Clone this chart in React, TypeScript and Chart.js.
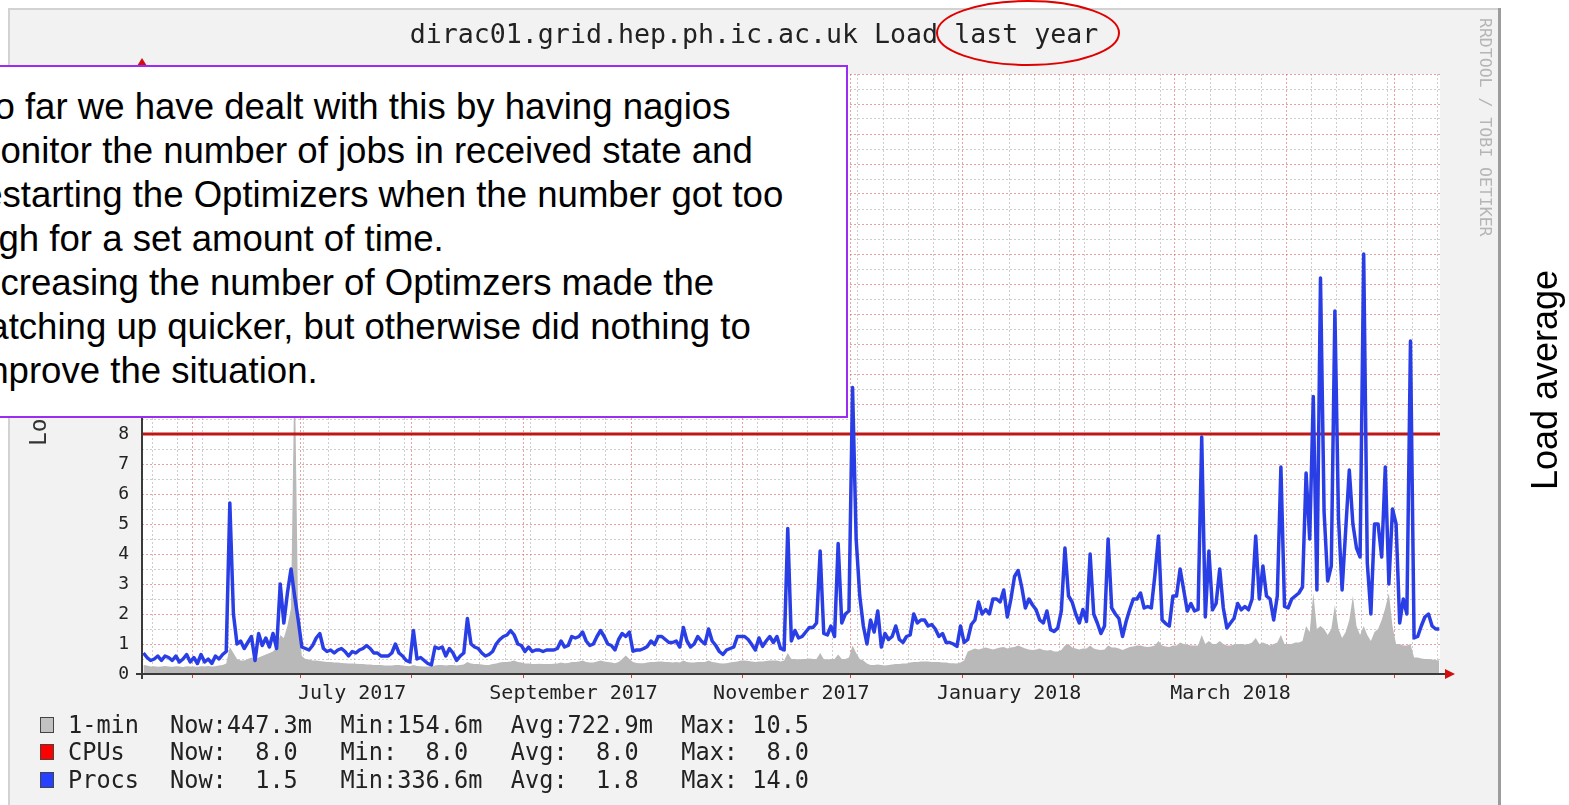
import React, { useEffect, useRef } from 'react';
import { Chart, registerables } from 'chart.js';

Chart.register(...registerables);

const W = 1569;
const H = 805;

// ---- Procs (daily, day 0 = 1 June 2017) ----
const procsMay17 = [0.7, 0.55, 0.45, 0.5, 0.6, 0.45, 0.6, 0.55, 0.45, 0.6, 0.4, 0.5, 0.65, 0.4];
const procsJun17 = [0.55, 0.35, 0.65, 0.4, 0.5, 0.35, 0.6, 0.5, 0.65, 0.75, 5.7, 2.0, 1.0, 1.1, 0.85, 1.05, 1.25, 0.45, 1.35, 0.95, 1.2, 0.9, 1.35, 0.85, 3.0, 1.7, 2.7, 3.5, 2.6, 1.8];
const procsJul17 = [0.9, 0.85, 0.8, 0.95, 1.2, 1.35, 0.85, 0.75, 0.8, 0.7, 0.8, 0.85, 0.75, 0.6, 0.75, 0.7, 0.8, 0.85, 0.95, 0.85, 0.7, 0.7, 0.6, 0.6, 0.6, 0.7, 1.0, 0.7, 0.6, 0.45, 0.4];
const procsAug17 = [1.45, 0.5, 0.55, 0.45, 0.35, 0.3, 0.9, 0.85, 0.9, 0.6, 0.85, 0.7, 0.45, 0.6, 0.7, 1.85, 1.0, 0.9, 0.85, 0.7, 0.6, 0.65, 0.75, 1.0, 1.15, 1.25, 1.3, 1.45, 1.3, 1.0, 0.95];
const procsSep17 = [0.75, 0.9, 0.75, 0.8, 0.8, 0.75, 0.8, 0.8, 0.8, 0.85, 1.1, 0.9, 0.95, 1.25, 1.2, 1.25, 1.4, 1.1, 0.95, 1.0, 1.25, 1.45, 1.25, 1.0, 0.95, 0.8, 1.15, 1.35, 1.25, 1.4];
const procsOct17 = [0.76, 0.8, 0.8, 0.85, 0.92, 1.1, 0.98, 1.25, 1.25, 1.15, 1.05, 1.05, 1.1, 0.9, 1.55, 1.1, 0.9, 1.0, 1.25, 1.1, 1.0, 1.5, 1.1, 0.95, 0.75, 0.65, 0.8, 0.85, 0.9, 1.25, 1.25];
const procsNov17 = [1.25, 1.15, 0.98, 0.8, 1.2, 0.92, 1.1, 1.25, 1.05, 1.25, 0.85, 0.8, 4.85, 1.1, 1.45, 1.2, 1.25, 1.4, 1.55, 1.55, 1.7, 4.1, 1.35, 1.3, 1.6, 1.25, 4.35, 1.7, 2.0, 2.1];
const procsDec17 = [9.55, 4.5, 2.6, 1.6, 1.0, 1.8, 1.4, 2.1, 0.9, 1.35, 1.15, 1.25, 1.6, 1.15, 1.05, 1.25, 1.3, 2.0, 1.7, 1.8, 1.8, 1.6, 1.65, 1.5, 1.25, 1.35, 1.05, 1.05, 1.0, 0.92, 1.6];
const procsJan18 = [1.05, 1.15, 1.65, 1.8, 2.4, 2.0, 2.15, 2.0, 2.5, 2.5, 2.4, 2.8, 1.9, 2.5, 3.25, 3.45, 2.9, 2.2, 2.5, 2.3, 2.14, 1.8, 1.7, 2.1, 1.48, 1.42, 1.53, 2.1, 4.2, 2.6, 2.4];
const procsFeb18 = [2.0, 1.7, 2.15, 1.75, 4.0, 2.0, 1.7, 1.35, 1.6, 4.5, 2.2, 2.0, 1.85, 1.25, 1.75, 2.15, 2.5, 2.5, 2.7, 2.2, 2.25, 2.2, 3.3, 4.6, 1.8, 1.68, 1.6, 2.6];
const procsMar18 = [2.6, 3.5, 2.8, 2.1, 2.35, 2.1, 2.15, 7.9, 1.9, 4.1, 2.14, 2.35, 3.5, 2.2, 1.53, 1.7, 1.86, 2.35, 2.14, 2.25, 2.14, 2.5, 4.6, 2.5, 3.6, 2.6, 2.5, 1.8, 2.6, 6.9, 2.25];
const procsApr18 = [2.2, 2.5, 2.6, 2.7, 2.9, 6.7, 4.5, 9.25, 2.8, 13.2, 5.4, 3.1, 3.6, 12.1, 5.2, 2.8, 4.8, 6.8, 5.0, 4.2, 3.9, 14.0, 3.7, 2.0, 5.0, 5.0, 3.9, 6.9, 3.0, 5.5];
const procsMay18 = [5.0, 1.7, 2.5, 2.0, 11.1, 1.2, 1.25, 1.6, 1.9, 2.0, 1.6, 1.5, 1.5];

// ---- 1-min load (daily) ----
const oneMinMay17 = [0.3, 0.28, 0.25, 0.26, 0.24, 0.25, 0.27, 0.25, 0.24, 0.26, 0.25, 0.23, 0.26, 0.25];
const oneMinJun17 = [0.25, 0.24, 0.26, 0.25, 0.27, 0.25, 0.26, 0.28, 0.3, 0.35, 0.9, 0.7, 0.5, 0.45, 0.45, 0.5, 0.55, 0.5, 0.55, 0.6, 0.65, 0.7, 0.75, 0.9, 1.3, 1.2, 1.6, 2.2, 10.5, 1.8];
const oneMinJul17 = [0.6, 0.5, 0.48, 0.45, 0.45, 0.43, 0.42, 0.4, 0.4, 0.38, 0.38, 0.37, 0.36, 0.35, 0.35, 0.34, 0.33, 0.33, 0.32, 0.32, 0.3, 0.3, 0.3, 0.28, 0.28, 0.28, 0.3, 0.3, 0.28, 0.27, 0.26];
const oneMinAug17 = [0.3, 0.27, 0.26, 0.25, 0.25, 0.24, 0.28, 0.3, 0.3, 0.28, 0.3, 0.3, 0.28, 0.3, 0.32, 0.4, 0.35, 0.33, 0.33, 0.32, 0.3, 0.3, 0.33, 0.35, 0.38, 0.4, 0.4, 0.42, 0.45, 0.4, 0.38];
const oneMinSep17 = [0.35, 0.35, 0.33, 0.33, 0.34, 0.33, 0.33, 0.33, 0.34, 0.35, 0.38, 0.36, 0.37, 0.4, 0.4, 0.42, 0.45, 0.4, 0.38, 0.38, 0.42, 0.45, 0.42, 0.4, 0.38, 0.36, 0.4, 0.5, 0.62, 0.5];
const oneMinOct17 = [0.4, 0.37, 0.36, 0.36, 0.38, 0.4, 0.4, 0.42, 0.42, 0.4, 0.4, 0.38, 0.4, 0.38, 0.45, 0.4, 0.38, 0.38, 0.4, 0.4, 0.4, 0.45, 0.4, 0.38, 0.36, 0.35, 0.36, 0.38, 0.4, 0.42, 0.45];
const oneMinNov17 = [0.45, 0.43, 0.42, 0.4, 0.42, 0.42, 0.43, 0.45, 0.45, 0.45, 0.42, 0.45, 0.7, 0.5, 0.5, 0.48, 0.5, 0.5, 0.52, 0.5, 0.5, 0.7, 0.5, 0.48, 0.5, 0.5, 0.65, 0.5, 0.5, 0.55];
const oneMinDec17 = [0.95, 0.7, 0.5, 0.45, 0.35, 0.3, 0.3, 0.32, 0.3, 0.28, 0.3, 0.32, 0.33, 0.33, 0.35, 0.35, 0.38, 0.4, 0.4, 0.42, 0.42, 0.42, 0.4, 0.4, 0.4, 0.38, 0.38, 0.36, 0.36, 0.35, 0.38];
const oneMinJan18 = [0.45, 0.75, 0.8, 0.85, 0.82, 0.85, 0.88, 0.85, 0.82, 0.85, 0.88, 0.9, 0.85, 0.88, 0.9, 0.95, 0.9, 0.85, 0.82, 0.8, 0.82, 0.85, 0.8, 0.78, 0.8, 0.75, 0.75, 0.8, 0.95, 1.0, 0.88];
const oneMinFeb18 = [0.85, 0.82, 0.85, 0.85, 0.95, 0.85, 0.82, 0.8, 0.82, 0.95, 0.88, 0.88, 0.85, 0.8, 0.85, 0.9, 0.92, 0.95, 0.95, 0.92, 0.9, 0.92, 0.95, 1.1, 0.95, 0.92, 0.9, 0.95];
const oneMinMar18 = [0.95, 1.05, 1.0, 0.98, 0.95, 0.95, 0.95, 1.3, 1.0, 1.1, 1.0, 1.0, 1.1, 1.0, 0.95, 0.95, 0.98, 1.0, 1.0, 0.98, 1.0, 1.05, 1.2, 1.0, 1.05, 1.0, 0.95, 1.0, 1.05, 1.3, 1.0];
const oneMinApr18 = [1.0, 1.0, 1.05, 1.05, 1.1, 1.6, 1.4, 2.7, 1.5, 1.6, 1.5, 1.3, 1.5, 2.3, 1.5, 1.2, 1.4, 1.8, 2.6, 1.6, 1.3, 1.6, 1.3, 1.1, 1.4, 1.5, 1.8, 2.2, 2.7, 1.6];
const oneMinMay18 = [1.0, 1.0, 0.95, 0.95, 1.0, 0.55, 0.55, 0.52, 0.5, 0.5, 0.48, 0.47, 0.45];

const cpuCount = 8;
const firstDay = -14; // 18 May 2017
const xMin = -13.9;
const xMax = 346.7;
const yMin = 0;
const yMax = 20;

const monthStarts = [0, 30, 61, 92, 122, 153, 183, 214, 245, 273, 304, 334];
const firstSunday = -11;
const xLabels = ['July 2017', 'September 2017', 'November 2017', 'January 2018', 'March 2018'];
const xLabelDays = [44.5, 106, 166.5, 227, 288.5];

const titleText = 'dirac01.grid.hep.ph.ic.ac.uk Load last year';
const yTitle = 'Load average';
const watermark = 'RRDTOOL / TOBI OETIKER';
const legendNames = ['1-min', 'CPUs', 'Procs'];
const legendStats = [
  'Now:447.3m  Min:154.6m  Avg:722.9m  Max: 10.5',
  'Now:  8.0   Min:  8.0   Avg:  8.0   Max:  8.0',
  'Now:  1.5   Min:336.6m  Avg:  1.8   Max: 14.0',
];
const legendColors = ['#c2c2c2', '#ff0000', '#2742ff'];

const noteLines = [
  'So far we have dealt with this by having nagios',
  'monitor the number of jobs in received state and',
  'restarting the Optimizers when the number got too',
  'high for a set amount of time.',
  'Increasing the number of Optimzers made the',
  'catching up quicker, but otherwise did nothing to',
  'improve the situation.',
];
const sideLabel = 'Load average';

const procs = [
  ...procsMay17, ...procsJun17, ...procsJul17, ...procsAug17, ...procsSep17, ...procsOct17,
  ...procsNov17, ...procsDec17, ...procsJan18, ...procsFeb18, ...procsMar18, ...procsApr18, ...procsMay18,
];
const oneMin = [
  ...oneMinMay17, ...oneMinJun17, ...oneMinJul17, ...oneMinAug17, ...oneMinSep17, ...oneMinOct17,
  ...oneMinNov17, ...oneMinDec17, ...oneMinJan18, ...oneMinFeb18, ...oneMinMar18, ...oneMinApr18, ...oneMinMay18,
];

const MONO = "'DejaVu Sans Mono', monospace";

function condensedText(ctx: any, text: string, x: number, y: number, sx: number) {
  ctx.save();
  ctx.translate(x, y);
  ctx.scale(sx, 1);
  ctx.fillText(text, 0, 0);
  ctx.restore();
}

function App() {
  const ref = useRef<HTMLCanvasElement | null>(null);

  useEffect(() => {
    const canvas = ref.current;
    if (!canvas) return;

    const procsPts = procs.map((v, i) => ({ x: firstDay + i + 0.5, y: v }));
    const minPts = oneMin.map((v, i) => ({ x: firstDay + i + 0.5, y: v }));
    const cpuPts = [{ x: xMin, y: cpuCount }, { x: xMax, y: cpuCount }];

    const gridDays: number[] = [...monthStarts];
    for (let d = firstSunday; d <= xMax; d += 7) {
      if (!monthStarts.includes(d)) gridDays.push(d);
    }
    gridDays.sort((a, b) => a - b);
    const yGrid: number[] = [];
    for (let v = yMin; v <= yMax + 1e-9; v += 0.5) yGrid.push(v);

    const majorColor = 'rgba(226,120,120,0.7)';
    const minorColor = 'rgba(165,165,165,0.55)';

    const rrdPlugin = {
      id: 'rrd',
      beforeDraw(chart: any) {
        const { ctx, chartArea: a } = chart;
        ctx.save();
        ctx.fillStyle = '#ffffff';
        ctx.fillRect(0, 0, W, H);
        ctx.fillStyle = '#f2f2f2';
        ctx.fillRect(8, 8, 1492, H - 8);
        ctx.fillStyle = '#d2d2d2';
        ctx.fillRect(8, 8, 1492, 2);
        ctx.fillRect(8, 8, 2, H - 8);
        ctx.fillStyle = '#9c9c9c';
        ctx.fillRect(1498, 8, 3, H - 8);
        ctx.fillStyle = '#ffffff';
        ctx.fillRect(a.left, a.top, a.right - a.left, a.bottom - a.top);
        ctx.restore();
      },
      afterDatasetsDraw(chart: any) {
        const { ctx, chartArea: a } = chart;
        const y0 = chart.scales.y.getPixelForValue(0);
        ctx.save();
        ctx.strokeStyle = '#3a3a3a';
        ctx.lineWidth = 2;
        ctx.beginPath();
        ctx.moveTo(a.left - 6, y0);
        ctx.lineTo(a.right + 6, y0);
        ctx.moveTo(a.left, y0 + 5);
        ctx.lineTo(a.left, a.top - 8);
        ctx.stroke();
        ctx.fillStyle = '#d01010';
        ctx.beginPath();
        ctx.moveTo(a.right + 5, y0 - 5);
        ctx.lineTo(a.right + 15, y0);
        ctx.lineTo(a.right + 5, y0 + 5);
        ctx.closePath();
        ctx.fill();
        ctx.beginPath();
        ctx.moveTo(a.left - 5, a.top - 8);
        ctx.lineTo(a.left, a.top - 16);
        ctx.lineTo(a.left + 5, a.top - 8);
        ctx.closePath();
        ctx.fill();
        ctx.restore();
      },
      afterDraw(chart: any) {
        const { ctx } = chart;
        ctx.save();
        ctx.fillStyle = '#222';
        ctx.textBaseline = 'middle';
        ctx.font = `26.6px ${MONO}`;
        ctx.textAlign = 'center';
        ctx.fillText(titleText, 754, 36);

        // y axis title
        ctx.save();
        ctx.translate(40, 363);
        ctx.rotate(-Math.PI / 2);
        ctx.font = `23px ${MONO}`;
        ctx.fillStyle = '#333';
        ctx.fillText(yTitle, 0, 0);
        ctx.restore();

        // watermark
        ctx.save();
        ctx.translate(1484, 18);
        ctx.rotate(Math.PI / 2);
        ctx.textAlign = 'left';
        ctx.font = `16.5px ${MONO}`;
        ctx.fillStyle = '#b5b5b5';
        ctx.fillText(watermark, 0, 0);
        ctx.restore();

        // legend
        const rows = [725, 752, 780];
        ctx.textAlign = 'left';
        ctx.font = `25.5px ${MONO}`;
        rows.forEach((ry, i) => {
          ctx.fillStyle = legendColors[i];
          ctx.fillRect(40, ry - 8, 14, 16);
          ctx.strokeStyle = '#444';
          ctx.lineWidth = 1;
          ctx.strokeRect(40.5, ry - 7.5, 13, 15);
          ctx.fillStyle = '#222';
          condensedText(ctx, legendNames[i], 68, ry + 1, 0.925);
          condensedText(ctx, legendStats[i], 170, ry + 1, 0.925);
        });
        ctx.restore();
      },
    };

    const chart = new Chart(canvas, {
      type: 'line',
      data: {
        datasets: [
          {
            label: 'Procs',
            data: procsPts,
            borderColor: '#2a3ee6',
            borderWidth: 3.5,
            borderJoinStyle: 'round',
            pointRadius: 0,
            fill: false,
            tension: 0,
            order: 0,
          },
          {
            label: 'CPUs',
            data: cpuPts,
            borderColor: '#c01616',
            borderWidth: 3.2,
            pointRadius: 0,
            fill: false,
            order: 1,
          },
          {
            label: '1-min',
            data: minPts,
            borderWidth: 0,
            borderColor: 'rgba(0,0,0,0)',
            backgroundColor: '#b9b9b9',
            fill: 'origin',
            pointRadius: 0,
            tension: 0,
            order: 2,
          },
        ],
      } as any,
      options: {
        animation: false,
        responsive: false,
        devicePixelRatio: 1,
        events: [],
        parsing: false,
        layout: { padding: { left: 0, right: 129, top: 74, bottom: 0 } },
        plugins: {
          legend: { display: false },
          tooltip: { enabled: false },
          title: { display: false },
        },
        scales: {
          x: {
            type: 'linear',
            position: 'bottom',
            min: xMin,
            max: xMax,
            afterBuildTicks: (s: any) => {
              s.ticks = gridDays.map((v) => ({ value: v }));
            },
            afterFit: (s: any) => {
              s.height = 0;
            },
            ticks: { display: false },
            grid: {
              color: (c: any) => (monthStarts.includes(c.tick?.value) ? majorColor : minorColor),
              lineWidth: 1,
              drawTicks: true,
              tickLength: 4,
              tickColor: (c: any) => (monthStarts.includes(c.tick?.value) ? '#d04040' : 'rgba(0,0,0,0)'),
            },
            border: { display: false, dash: [2, 2] },
          },
          x2: {
            type: 'linear',
            position: 'bottom',
            min: xMin,
            max: xMax,
            afterBuildTicks: (s: any) => {
              s.ticks = xLabelDays.map((v) => ({ value: v }));
            },
            afterFit: (s: any) => {
              s.height = H - 674;
            },
            grid: { display: false, drawTicks: false },
            border: { display: false },
            ticks: {
              autoSkip: false,
              maxRotation: 0,
              minRotation: 0,
              padding: 8,
              color: '#222',
              font: { family: MONO, size: 20 },
              callback: (_v: any, i: number) => xLabels[i],
            },
          },
          y: {
            type: 'linear',
            min: yMin,
            max: yMax,
            afterBuildTicks: (s: any) => {
              s.ticks = yGrid.map((v) => ({ value: v }));
            },
            afterFit: (s: any) => {
              s.width = 142;
            },
            ticks: {
              autoSkip: false,
              padding: 13,
              color: '#222',
              font: { family: MONO, size: 18 },
              callback: (v: any) => (Number.isInteger(v) ? String(v) : ''),
            },
            grid: {
              color: (c: any) => (Number.isInteger(c.tick?.value) ? majorColor : minorColor),
              lineWidth: 1,
              drawTicks: false,
            },
            border: { display: false, dash: [2, 2] },
          },
        },
      } as any,
      plugins: [rrdPlugin],
    });

    return () => {
      chart.destroy();
    };
  }, []);

  return (
    <div
      style={{
        position: 'absolute',
        left: 0,
        top: 0,
        width: W,
        height: H,
        overflow: 'hidden',
        background: '#fff',
      }}
    >
      <canvas
        ref={ref}
        width={W}
        height={H}
        style={{ position: 'absolute', left: 0, top: 0, width: W, height: H }}
      />
      <div
        style={{
          position: 'absolute',
          left: -10,
          top: 65,
          width: 858,
          height: 353,
          boxSizing: 'border-box',
          border: '2px solid #9b2cf5',
          background: '#fff',
        }}
      />
      <div
        style={{
          position: 'absolute',
          left: -30,
          top: 85,
          fontFamily: "'Liberation Sans', Arial, sans-serif",
          fontSize: 36.6,
          lineHeight: '44px',
          color: '#000',
          whiteSpace: 'pre',
        }}
      >
        {noteLines.join('\n')}
      </div>
      <svg
        width={W}
        height={H}
        style={{ position: 'absolute', left: 0, top: 0, pointerEvents: 'none' }}
      >
        <ellipse cx={1028} cy={33} rx={91} ry={32} fill="none" stroke="#e00000" strokeWidth={2} />
        <text
          transform="translate(1557,380) rotate(-90)"
          textAnchor="middle"
          fontFamily="'Liberation Sans', Arial, sans-serif"
          fontSize={36}
          fill="#000"
        >
          {sideLabel}
        </text>
      </svg>
    </div>
  );
}

export default App;
